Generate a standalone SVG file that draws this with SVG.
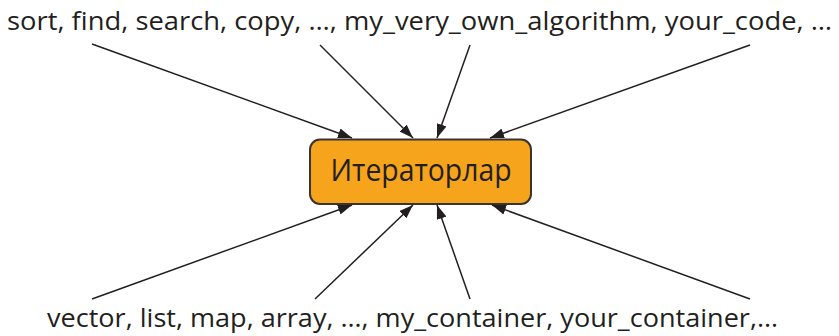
<svg xmlns="http://www.w3.org/2000/svg" width="839" height="336" viewBox="0 0 839 336">
<defs>
<marker id="ah" viewBox="0 0 14 10" refX="14" refY="5" markerWidth="14" markerHeight="10" markerUnits="userSpaceOnUse" orient="auto">
<path d="M0,0 L14,5 L0,10 Z" fill="#231f20"/>
</marker>
</defs>
<style>
.lbl{font-family:"Open Sans","Liberation Sans",sans-serif;font-size:26px;fill:#231f20}
.c{stroke:#231f20;stroke-width:1.5;fill:none;marker-end:url(#ah)}
</style>
<g id="top-label"><text class="lbl" x="7" y="30" textLength="825" lengthAdjust="spacingAndGlyphs">sort, find, search, copy, …, my_very_own_algorithm, your_code, …</text></g>
<g id="bottom-label"><text class="lbl" x="47" y="327" textLength="731" lengthAdjust="spacingAndGlyphs">vector, list, map, array, …, my_container, your_container,…</text></g>
<g id="iterators">
<rect x="310" y="139.5" width="221" height="64.5" rx="10" fill="#f7a41d" stroke="#3a3330" stroke-width="2"/>
<text x="421" y="181" text-anchor="middle" font-family="'Open Sans','Liberation Sans',sans-serif" font-size="31" fill="#231f20" textLength="181" lengthAdjust="spacingAndGlyphs">Итераторлар</text>
</g>
<g id="connectors">
<line class="c" x1="92" y1="44" x2="352" y2="138"/>
<line class="c" x1="320" y1="45" x2="413" y2="138"/>
<line class="c" x1="470" y1="45" x2="437" y2="138"/>
<line class="c" x1="750" y1="45" x2="490" y2="138"/>
<line class="c" x1="92" y1="299" x2="352" y2="205"/>
<line class="c" x1="315" y1="299" x2="413" y2="205"/>
<line class="c" x1="470" y1="299" x2="437" y2="205"/>
<line class="c" x1="750" y1="299" x2="492" y2="205"/>
</g>
</svg>
